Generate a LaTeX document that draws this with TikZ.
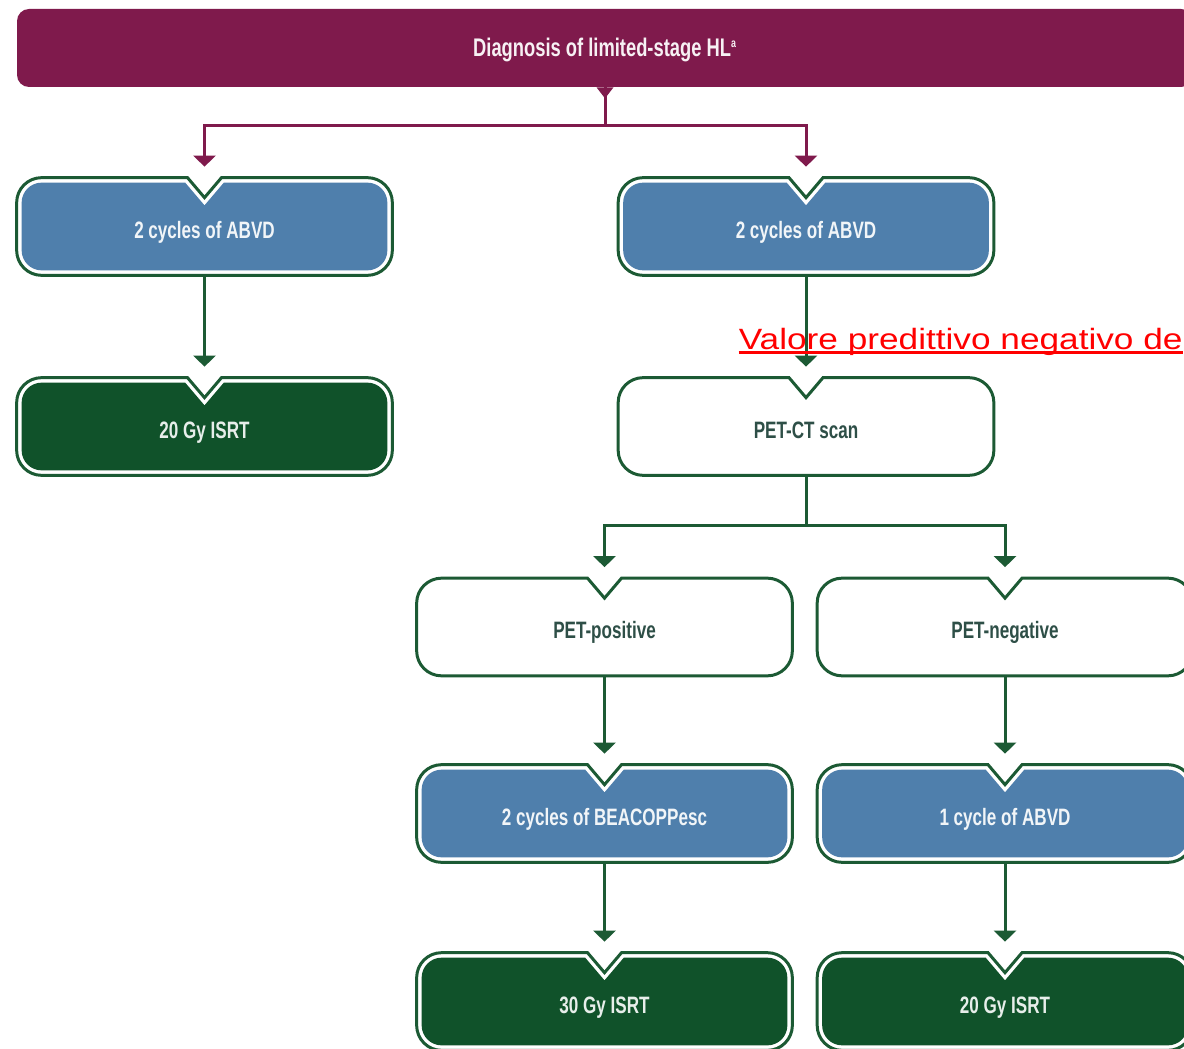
\documentclass[tikz,border=0pt]{standalone}
\usepackage{fontspec}
\setmainfont{Liberation Sans}
\newfontfamily\condfont{Liberation Sans}[FakeStretch=0.72]
\newfontfamily\widefont{Liberation Sans}[FakeStretch=1.2]
\usetikzlibrary{arrows.meta,calc,positioning}
\pgfdeclarelayer{background}
\pgfsetlayers{background,main}

\definecolor{hlmaroon}{HTML}{7F1A4C}
\definecolor{hlblue}{HTML}{4F7FAC}
\definecolor{hlgreen}{HTML}{10522A}
\definecolor{hlline}{HTML}{1C5A34}
\definecolor{hltext}{HTML}{2E4F47}

% notched box: #1 style, #2 node, #3 inset (cm)
\newcommand{\notchshape}[3]{%
  \path[#1] ($(#2.north west)+(0.5,{-#3})$)
    -- ($(#2.north)+({-0.34-0.46*#3},{-#3})$)
    -- ($(#2.north)+(0,{-0.4-1.54*#3})$)
    -- ($(#2.north)+({0.34+0.46*#3},{-#3})$)
    -- ($(#2.north east)+(-0.5,{-#3})$) arc[start angle=90,end angle=0,radius={0.5-#3}]
    -- ($(#2.south east)+({-#3},0.5)$) arc[start angle=0,end angle=-90,radius={0.5-#3}]
    -- ($(#2.south west)+(0.5,{#3})$) arc[start angle=270,end angle=180,radius={0.5-#3}]
    -- ($(#2.north west)+({#3},-0.5)$) arc[start angle=180,end angle=90,radius={0.5-#3}]
    -- cycle;}

\tikzset{
  stage/.style={minimum width=7.5cm, minimum height=1.94cm, inner sep=0pt,
    text height=0.47cm, text depth=0cm,
    font=\condfont\bfseries\fontsize{13.5}{16}\selectfont},
  chemo/.style={stage, text=white!92!hlblue},
  radio/.style={stage, text=white!90!hlgreen},
  scan/.style={stage, text=hltext},
  banner/.style={fill=hlmaroon, rounded corners=0.24cm, minimum width=23.52cm,
    minimum height=1.56cm, inner sep=0pt, text height=0.36cm, text depth=0cm, text=white!94!hlmaroon,
    font=\condfont\bfseries\fontsize{14.5}{16}\selectfont},
  flow/.style={draw=hlline, line width=1.7pt, -{Triangle[width=0.44cm,length=0.22cm]}, shorten >=0.22cm},
  flowM/.style={flow, draw=hlmaroon},
  outline/.style={draw=hlline, line width=1.7pt, fill=white},
}

\begin{document}
\begin{tikzpicture}
  \useasboundingbox (0,0) rectangle (23.68,-20.96);

  \node[banner] (diag) at (12.1,-0.96) {Diagnosis of limited-stage HL\textsuperscript{\fontsize{7}{7}\selectfont a}};
  \fill[hlmaroon] ([xshift=-0.17cm]diag.south) -- ([xshift=0.17cm]diag.south) -- ([yshift=-0.22cm]diag.south) -- cycle;

  \node[chemo] (abvdL) at (4.09,-4.53) {2 cycles of ABVD};
  \node[chemo] (abvdR) at (16.12,-4.53) {2 cycles of ABVD};
  \node[radio] (isrtL) at (4.09,-8.53) {20 Gy ISRT};
  \node[scan] (petct) at (16.12,-8.53) {PET-CT scan};

  \node[scan] (petpos) at (12.09,-12.54) {PET-positive};
  \node[scan] (petneg) at (20.1,-12.54) {PET-negative};
  \node[chemo] (beacopp) at (12.09,-16.27) {2 cycles of BEACOPPesc};
  \node[chemo] (abvdO) at (20.1,-16.27) {1 cycle of ABVD};
  \node[radio] (isrtT) at (12.09,-20.03) {30 Gy ISRT};
  \node[radio] (isrtP) at (20.1,-20.03) {20 Gy ISRT};

  \begin{pgfonlayer}{background}
    \foreach \n/\c in {abvdL/hlblue, abvdR/hlblue, isrtL/hlgreen, beacopp/hlblue,
                       abvdO/hlblue, isrtT/hlgreen, isrtP/hlgreen} {
      \notchshape{outline}{\n}{0}
      \notchshape{fill=\c}{\n}{0.1}
    }
    \foreach \n in {petct, petpos, petneg}
      {\notchshape{outline}{\n}{0}}
  \end{pgfonlayer}

  \draw[flowM] (diag.south) -- ++(0,-0.76) -| (abvdL);
  \draw[flowM] (diag.south) -- ++(0,-0.76) -| (abvdR);
  \draw[flow] (abvdL) -- (isrtL);
  \draw[flow] (abvdR) -- (petct);
  \draw[flow] (petct.south) -- ++(0,-1.0) -| (petpos);
  \draw[flow] (petct.south) -- ++(0,-1.0) -| (petneg);
  \draw[flow] (petpos) -- (beacopp);
  \draw[flow] (petneg) -- (abvdO);
  \draw[flow] (beacopp) -- (isrtT);
  \draw[flow] (abvdO) -- (isrtP);

  \node[anchor=base west, inner sep=0pt, text=red, font=\widefont\fontsize{16.7}{20}\selectfont]
    (pvn) at (14.77,-6.98) {Valore predittivo negativo de};
  \draw[red, line width=0.06cm] ([yshift=-0.068cm]pvn.base west) -- ([yshift=-0.068cm]pvn.base east);
\end{tikzpicture}
\end{document}
